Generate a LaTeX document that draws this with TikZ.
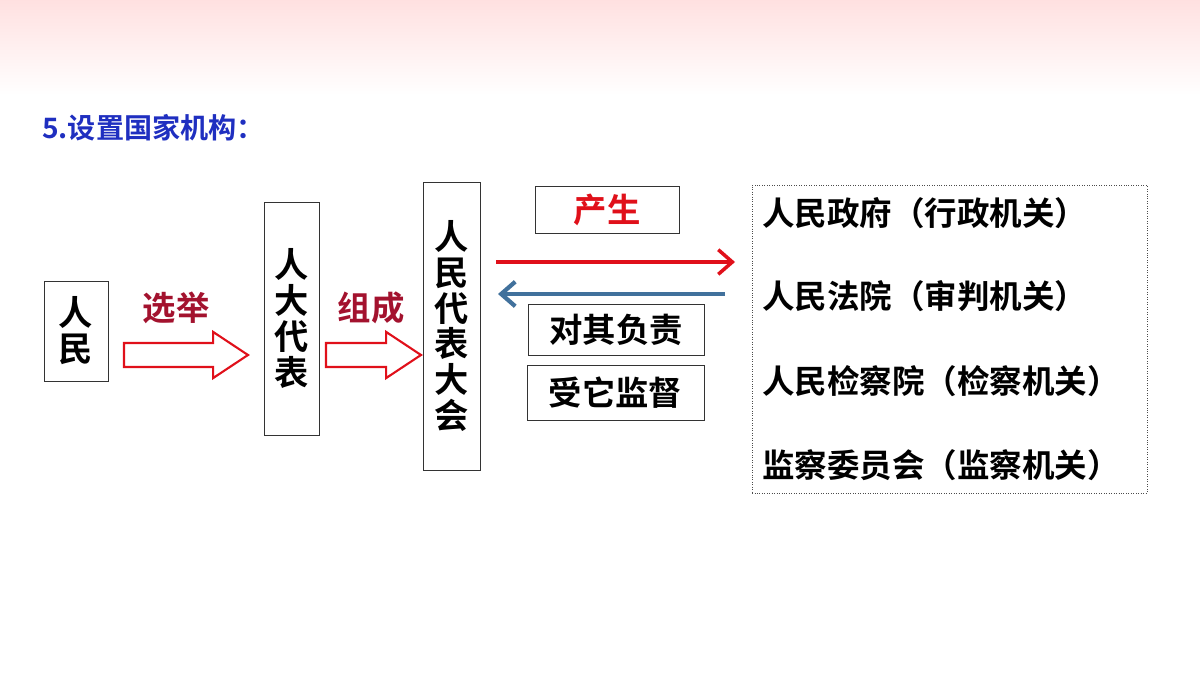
\documentclass[tikz,border=0pt]{standalone}
\usepackage{fontspec}
\newfontfamily\cjk{Noto Sans CJK SC}
\newfontfamily\cjkb{Noto Sans CJK SC Bold}
\usetikzlibrary{positioning,shapes.arrows,arrows.meta}
\definecolor{darkred}{HTML}{A3122E}
\definecolor{arrowred}{HTML}{E0101A}
\definecolor{steelblue}{HTML}{41719C}
\definecolor{titleblue}{HTML}{1F2FC0}
\tikzset{
  box/.style={rectangle, draw=black!80, fill=white, inner sep=0},
  vtext/.style={align=center, font=\cjkb\fontsize{19.5}{20.4}\selectfont},
  btext/.style={font=\cjkb\fontsize{19}{21}\selectfont},
  organ/.style={anchor=west, font=\cjkb\fontsize{18.5}{21}\selectfont},
  hollow/.style={single arrow, draw=arrowred, line width=1.2pt, fill=white,
    inner xsep=0, inner ysep=0.22cm, outer sep=0, single arrow head extend=0.22cm,
    single arrow tip angle=67, minimum height=#1, anchor=west}
}
\begin{document}
\begin{tikzpicture}[x=0.02cm, y=-0.02cm]
  \useasboundingbox (0,0) rectangle (1200,675);
  \shade[top color=red!12, bottom color=white] (0,0) rectangle (1200,95);

  \node[anchor=west, text=titleblue, font=\cjkb\fontsize{16}{18}\selectfont] (title) at (36,128) {5.设置国家机构：};

  \node[box, minimum width=1.28cm, minimum height=2cm] (people) at (76,331) {};
  \node[vtext] at (people.center) {人\\民};

  \node[box, minimum width=1.1cm, minimum height=4.66cm] (deputies) at (291.5,318.5) {};
  \node[vtext] at (deputies.center) {人\\大\\代\\表};

  \node[box, minimum width=1.14cm, minimum height=5.76cm] (congress) at (451.5,326) {};
  \node[vtext] at (congress.center) {人\\民\\代\\表\\大\\会};

  \node[hollow=2.48cm] (elect) at (124,355) {};
  \node[hollow=1.9cm] (form) at (326,355) {};
  \node[btext, text=darkred] at (176,308) {选举};
  \node[btext, text=darkred] at (371,308) {组成};

  \node[box, minimum width=2.88cm, minimum height=0.94cm] (produce) at (607,209.5) {};
  \node[btext, text=arrowred] at (produce.center) {产生};
  \node[box, minimum width=3.52cm, minimum height=1.02cm] (resp) at (616,329.5) {};
  \node[btext] at (resp.center) {对其负责};
  \node[box, minimum width=3.54cm, minimum height=1.1cm] (superv) at (615.5,392.5) {};
  \node[btext] at (superv.center) {受它监督};

  \node[rectangle, draw=black!70, densely dotted, minimum width=7.9cm, minimum height=6.16cm] (organs) at (949.5,339) {};
  \node[organ] (gov) at (756,213) {人民政府（行政机关）};
  \node[organ] (court) at (756,296) {人民法院（审判机关）};
  \node[organ] (procur) at (756,381) {人民检察院（检察机关）};
  \node[organ] (commis) at (756,465) {监察委员会（监察机关）};

  \coordinate (c1) at (496,262);
  \coordinate (c2) at (735,262);
  \coordinate (c3) at (725,294);
  \coordinate (c4) at (498,294);
  \draw[arrowred, line width=2pt, -{Straight Barb[length=8pt, width=14pt]}] (c1) -- (c2);
  \draw[steelblue, line width=2.4pt, -{Straight Barb[length=8pt, width=14pt]}] (c3) -- (c4);
\end{tikzpicture}
\end{document}
